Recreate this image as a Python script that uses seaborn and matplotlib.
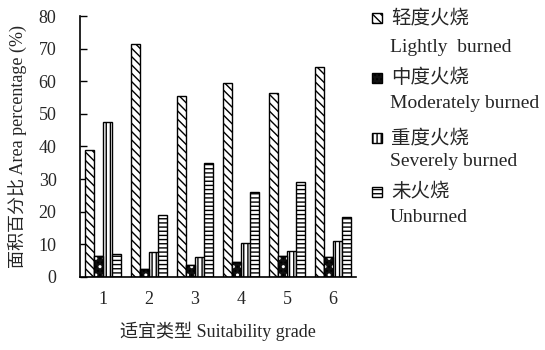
import numpy as np
import pandas as pd
import matplotlib
matplotlib.use('Agg')
import matplotlib.pyplot as plt
from matplotlib.patches import Rectangle
import seaborn as sns

# ── DATA ─────────────────────────────────────────────────────────────────────
grades = ['1', '2', '3', '4', '5', '6']
lightly = [39, 71.5, 55.5, 59.5, 56.5, 64.5]
moderately = [6.3, 2.3, 3.5, 4.5, 6.5, 6.0]
severely = [47.5, 7.5, 6.0, 10.5, 8.0, 11.0]
unburned = [7.0, 19.0, 35.0, 26.0, 29.0, 18.5]

series_cn = ['轻度火烧', '中度火烧', '重度火烧', '未火烧']
series_en = ['Lightly  burned', 'Moderately burned', 'Severely burned', 'Unburned']

df = pd.DataFrame({
    'grade': grades * 4,
    'series': np.repeat(series_cn, len(grades)),
    'value': lightly + moderately + severely + unburned,
})

# ── STYLE ────────────────────────────────────────────────────────────────────
sns.set_style('white')
plt.rcParams['font.family'] = ['Liberation Serif', 'Noto Sans CJK SC']
plt.rcParams['hatch.linewidth'] = 1.0

hatches = ['\\\\\\\\', '....', '||||', '----']
faces = ['white', '#111111', 'white', 'white']

fig = plt.figure(figsize=(5.45, 3.5), dpi=100)
ax = fig.add_axes([0.147, 0.209, 0.506, 0.745])

sns.barplot(data=df, x='grade', y='value', hue='series', hue_order=series_cn,
            order=grades, width=0.78, ax=ax, legend=False,
            color='white', edgecolor='black', linewidth=1.0)

# patches are grouped by hue
for i, bar in enumerate(ax.patches):
    k = i // len(grades)
    bar.set_hatch(hatches[k])
    bar.set_facecolor(faces[k])
    bar.set_edgecolor('black')
    if k == 1:
        # white dots on black
        ax.add_patch(Rectangle(bar.get_xy(), bar.get_width(), bar.get_height(),
                               fill=False, hatch='..', edgecolor='white',
                               linewidth=0, zorder=bar.get_zorder() + 0.1))
        ax.add_patch(Rectangle(bar.get_xy(), bar.get_width(), bar.get_height(),
                               fill=False, edgecolor='black', linewidth=1.0,
                               zorder=bar.get_zorder() + 0.2))

ax.set_ylim(0, 80)
ax.set_xlim(-0.5, 5.5)
ax.set_yticks(range(0, 81, 10))
ax.set_xticks(range(6))
ax.set_xticklabels(grades)
ax.set_xticks(np.arange(0.5, 5.5, 1), minor=True)
ax.tick_params(axis='x', which='major', length=0, pad=10, labelsize=13)
ax.tick_params(axis='x', which='minor', direction='in', length=4, width=1, color='black')
ax.tick_params(axis='y', direction='in', length=5, width=1, labelsize=13, pad=17, color='black', left=True)

for s in ['top', 'right']:
    ax.spines[s].set_visible(False)
for s in ['left', 'bottom']:
    ax.spines[s].set_color('black')
    ax.spines[s].set_linewidth(1.2)

ax.set_xlabel('适宜类型 Suitability grade', fontsize=13, labelpad=10)
ax.set_ylabel('面积百分比 Area percentage (%)', fontsize=13, labelpad=8)

# ── LEGEND (manual) ──────────────────────────────────────────────────────────
W, H = 545, 350
ys_cn = [18, 78, 138, 192]
ys_en = [48, 103, 162, 217]
for k in range(4):
    fig.patches.append(Rectangle((372 / W, 1 - (ys_cn[k] + 5) / H), 10 / W, 10 / H,
                                 transform=fig.transFigure, facecolor=faces[k],
                                 edgecolor='black', hatch=hatches[k], linewidth=1.0))
    fig.text(391 / W, 1 - ys_cn[k] / H, series_cn[k], fontsize=14, va='center', ha='left')
    fig.text(390 / W, 1 - ys_en[k] / H, series_en[k], fontsize=14, va='center', ha='left')

fig.savefig('out.png', dpi=100)
